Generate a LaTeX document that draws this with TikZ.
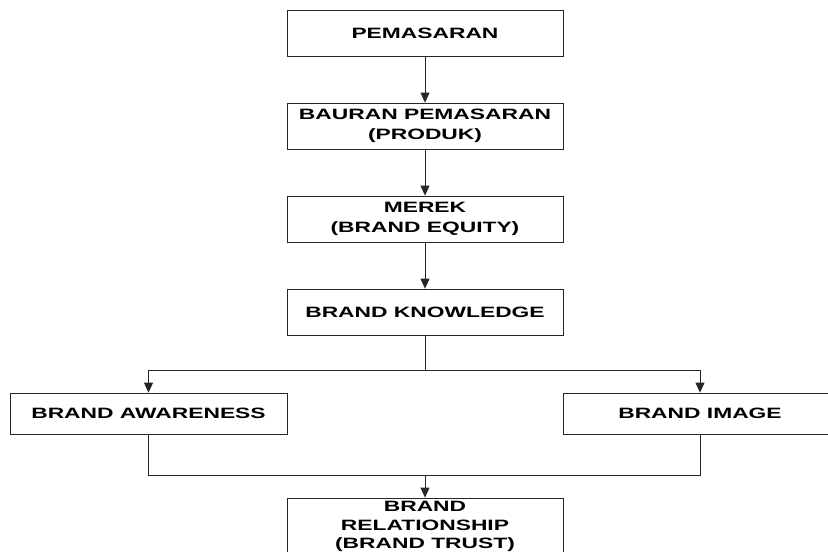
\documentclass[tikz,border=0pt]{standalone}
\usepackage{fontspec}
\newfontfamily\diagfont{Liberation Sans}[FakeStretch=1.52]
\usetikzlibrary{arrows.meta}
\begin{document}
\begin{tikzpicture}[x=1pt,y=-1pt,
  box/.style={draw=black!85,line width=0.8pt,rectangle,inner sep=0pt,align=center,
    font=\diagfont\bfseries\fontsize{15}{20}\selectfont},
  conn/.style={draw=black!85,line width=0.8pt},
  arr/.style={conn,-{Triangle[length=10pt,width=9pt]}}]
\useasboundingbox (0,0) rectangle (828,552);
\clip (0,0) rectangle (828,552);
\node[box,minimum width=276pt,minimum height=46pt] (pem) at (425,33) {PEMASARAN};
\node[box,minimum width=276pt,minimum height=46pt] (bau) at (425,126) {BAURAN PEMASARAN\\(PRODUK)};
\node[box,minimum width=276pt,minimum height=46pt] (mer) at (425,219) {MEREK\\(BRAND EQUITY)};
\node[box,minimum width=276pt,minimum height=46pt] (bk) at (425,312) {BRAND KNOWLEDGE};
\node[box,minimum width=277pt,minimum height=41pt] (aw) at (148.5,413.5) {BRAND AWARENESS};
\node[box,minimum width=274pt,minimum height=41pt] (im) at (700,413.5) {BRAND IMAGE};
\node[box,minimum width=276pt,minimum height=62pt,text depth=0pt] (br) at (425,529) {};
\node[font=\diagfont\bfseries\fontsize{15}{18.5}\selectfont,align=center,inner sep=0pt,anchor=north] (brt) at (425,501) {BRAND\\RELATIONSHIP\\(BRAND TRUST)};
\coordinate (split) at (425,370);
\coordinate (join) at (425,475);
\draw[arr] (pem) -- (bau);
\draw[arr] (bau) -- (mer);
\draw[arr] (mer) -- (bk);
\draw[conn] (bk) -- (split);
\draw[arr] (split) -| (aw);
\draw[arr] (split) -| (im);
\draw[conn] (aw) |- (join);
\draw[conn] (im) |- (join);
\draw[arr] (join) -- (br);
\end{tikzpicture}
\end{document}
